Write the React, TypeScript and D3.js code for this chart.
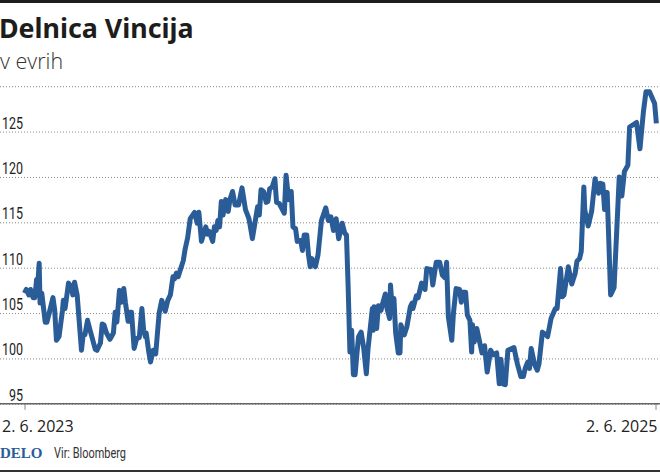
import React, { useEffect, useRef } from 'react';
import * as d3 from 'd3';

const startDate = new Date(2023, 5, 2);
const endDate = new Date(2025, 5, 2);

// days after 2. 6. 2023
const days = [
  0, 2, 5, 7, 10, 12, 14, 15, 17, 18, 20, 24, 26, 33, 35, 37, 40, 44, 45, 47, 51, 54, 56, 58, 61, 66, 68, 70, 73, 76,
  78, 82, 84, 88, 90, 92, 95, 99, 103, 105, 107, 110, 112, 115, 117, 120, 122, 124, 127, 130, 133, 136, 138, 140, 141, 144, 146, 149, 152, 156,
  159, 163, 166, 169, 172, 174, 176, 178, 184, 186, 189, 192, 197, 200, 202, 205, 210, 212, 214, 218, 220, 222, 224, 226, 228, 230, 233, 236, 238, 241,
  244, 248, 252, 256, 260, 261, 264, 270, 272, 274, 277, 280, 282, 284, 287, 290, 292, 295, 301, 303, 306, 309, 311, 314, 316, 320, 322, 324, 327, 329,
  331, 333, 337, 340, 344, 349, 352, 355, 358, 361, 364, 368, 371, 373, 375, 377, 379, 381, 383, 385, 387, 390, 393, 396, 398, 403, 404, 405, 408, 410,
  413, 415, 418, 420, 423, 424, 426, 428, 430, 433, 435, 436, 440, 443, 447, 449, 450, 454, 456, 460, 464, 466, 471, 473, 477, 481, 484, 487, 489, 491,
  495, 497, 500, 504, 506, 507, 511, 513, 516, 518, 519, 521, 524, 530, 533, 536, 540, 543, 547, 550, 552, 554, 557, 560, 567, 571, 575, 578, 580, 583,
  585, 587, 591, 594, 596, 600, 604, 606, 610, 615, 617, 621, 623, 625, 630, 634, 638, 640, 643, 645, 648, 649, 653, 657, 661, 665, 667, 670, 672, 675,
  679, 683, 689, 692, 695, 699, 701, 709, 713, 717, 720, 724, 730, 732,
];

const prices = [
  107.2, 107.6, 107, 107.6, 106.7, 106.7, 108.7, 107.6, 110.5, 106.1, 107.2, 104, 104, 106.7, 105.3, 102, 102.4, 105.3, 106.4, 105.5, 108.3, 107.9, 107, 108.4, 107, 100.9, 102.6, 102.6, 104.2, 103.1,
  102.4, 101, 100.9, 101.7, 103.8, 103.7, 102.8, 102.1, 102.8, 105.1, 104, 107.5, 106.2, 107.7, 106.1, 104.1, 105.1, 105.1, 101.1, 102.2, 102.3, 105.5, 103.1, 102.4, 102.8, 100.7, 99.6, 100.9, 100.5, 105,
  106.4, 105.2, 106.4, 107, 109, 108.8, 109.4, 109, 110.8, 112, 113.3, 115.4, 116.1, 114.9, 116.1, 112.9, 114.5, 113.7, 114, 112.9, 114.5, 114.1, 115.2, 114.5, 117.3, 115.8, 117.5, 116.2, 117.5, 118.4,
  116.9, 116.9, 118.8, 116.4, 115.4, 114.9, 113.2, 116.7, 115.8, 118.6, 118.4, 117.2, 117.3, 118.7, 118.9, 119.8, 117.2, 117.1, 116, 120.2, 117.5, 118.4, 114.5, 114.3, 112.9, 113, 111.9, 113.6, 113.6, 111.4,
  110.1, 111, 110.1, 111.4, 115.2, 116.6, 115.2, 115.6, 114.1, 115.4, 113.2, 114.9, 113.8, 113.6, 107.7, 100.7, 103.1, 98.2, 98.2, 100.4, 102.4, 102.9, 101.1, 98.3, 101.1, 105.5, 103.1, 105.7, 103.3, 105.8,
  105.3, 106.1, 107.1, 105.5, 104.4, 108.1, 105.5, 106.6, 102.8, 100.6, 100.6, 103.7, 102.6, 103.5, 105.7, 106.1, 105.5, 106.9, 106.7, 108.3, 107.6, 109.9, 109.8, 108.1, 110.6, 110.6, 109.2, 108.9, 110.6, 104.6,
  102, 105.1, 107.7, 107.6, 106.2, 107.3, 107.3, 104.8, 104.2, 100.7, 103.7, 101.8, 103.3, 100.6, 101.4, 98.5, 100.9, 100.4, 100.6, 97.2, 99.9, 97.2, 97.1, 100.9, 101.2, 99.4, 98, 98, 98.9, 99.6,
  98.9, 101.1, 99.3, 98.7, 99.4, 102.9, 102.6, 102.4, 104.4, 105.5, 105.5, 109.9, 106.8, 107, 110.1, 108.2, 109.4, 110.7, 111, 111.8, 118.9, 116.4, 114.6, 116.2, 119.8, 118.2, 119.3, 119.2, 116.4, 118.3,
  107, 107.8, 120, 117.9, 120.6, 121.3, 125.5, 126, 123.1, 127.2, 129.4, 129.4, 128.1, 125.9,
];

const yTicks = [95, 100, 105, 110, 115, 120, 125, 130];
const yLabels = ['95', '100', '105', '110', '115', '120', '125', ''];
const xTicks = [startDate, endDate];
const xLabels = ['2. 6. 2023', '2. 6. 2025'];

const W = 660;
const H = 472;

export default function App() {
  const svgRef = useRef<SVGSVGElement>(null);

  useEffect(() => {
    if (!svgRef.current) return;
    const svg = d3.select(svgRef.current);
    svg.selectAll('*').remove();

    const x = d3.scaleTime().domain([startDate, endDate]).range([24.5, 655.5]);
    const y = d3.scaleLinear().domain([95, 130]).range([403.8, 86.2]);

    // frame lines
    svg.append('rect').attr('x', 0).attr('y', 0).attr('width', W).attr('height', 3).attr('fill', '#1d1d1b');
    svg.append('rect').attr('x', 0).attr('y', 470).attr('width', W).attr('height', 2).attr('fill', '#333');

    // Titles
    svg.append('text').text('Delnica Vincija')
      .attr('x', -1).attr('y', 38)
      .attr('font-family', 'Noto Sans').attr('font-weight', 700).attr('font-size', 26.8)
      .attr('fill', '#1d1d1b');
    svg.append('text').text('v evrih')
      .attr('x', 0).attr('y', 69)
      .attr('font-family', 'Open Sans').attr('font-weight', 300).attr('font-size', 21.5)
      .attr('fill', '#333');

    // Y axis with dotted grid
    const yAxis = svg.append('g')
      .call(d3.axisRight(y).tickValues(yTicks).tickSize(W).tickFormat((_, i) => yLabels[i]));
    yAxis.select('.domain').remove();
    yAxis.selectAll('line')
      .attr('stroke', '#8a8a8a').attr('stroke-width', 1).attr('stroke-dasharray', '1 2');
    yAxis.selectAll<SVGTextElement, number>('text')
      .attr('x', 23).attr('dy', -3.5)
      .attr('text-anchor', 'end')
      .attr('font-family', 'Roboto').attr('font-size', 16)
      .attr('fill', '#222')
      .attr('textLength', (_, i) => yLabels[i].length * 7 || null)
      .attr('lengthAdjust', 'spacingAndGlyphs');

    // Line
    const line = d3.line<number>()
      .x((_, i) => x(d3.timeDay.offset(startDate, days[i])))
      .y(d => y(d))
      .curve(d3.curveLinear);

    svg.append('path')
      .datum(prices)
      .attr('fill', 'none')
      .attr('stroke', '#2a5d98')
      .attr('stroke-width', 5)
      .attr('stroke-linejoin', 'round')
      .attr('d', line);

    // X axis
    const xAxis = svg.append('g')
      .attr('transform', `translate(0,${y(95)})`)
      .call(d3.axisBottom(x).tickValues(xTicks).tickSize(6).tickFormat((_, i) => xLabels[i]));
    xAxis.select('.domain').remove();
    xAxis.selectAll('line').attr('stroke', '#888').attr('stroke-width', 1);
    xAxis.selectAll('text')
      .attr('font-family', 'Open Sans').attr('font-size', 16).attr('fill', '#222')
      .attr('dy', 0).attr('y', 28)
      .attr('text-anchor', (_, i) => (i === 0 ? 'start' : 'end'))
      .attr('x', (_, i) => (i === 0 ? -23 : 1.5));

    svg.append('line')
      .attr('x1', 0).attr('x2', W)
      .attr('y1', y(95)).attr('y2', y(95))
      .attr('stroke', '#666').attr('stroke-width', 1.5);

    // Footer
    svg.append('text').text('DELO')
      .attr('x', 0).attr('y', 458)
      .attr('font-family', 'Liberation Serif').attr('font-weight', 700).attr('font-size', 15)
      .attr('fill', '#2a5d98');
    svg.append('text').text('Vir: Bloomberg')
      .attr('x', 54).attr('y', 458)
      .attr('font-family', 'Roboto').attr('font-size', 14.5)
      .attr('fill', '#333')
      .attr('textLength', 72)
      .attr('lengthAdjust', 'spacingAndGlyphs');
  }, []);

  return (
    <svg
      ref={svgRef}
      width={W}
      height={H}
      style={{ position: 'absolute', left: 0, top: 0, background: '#fff' }}
    />
  );
}
